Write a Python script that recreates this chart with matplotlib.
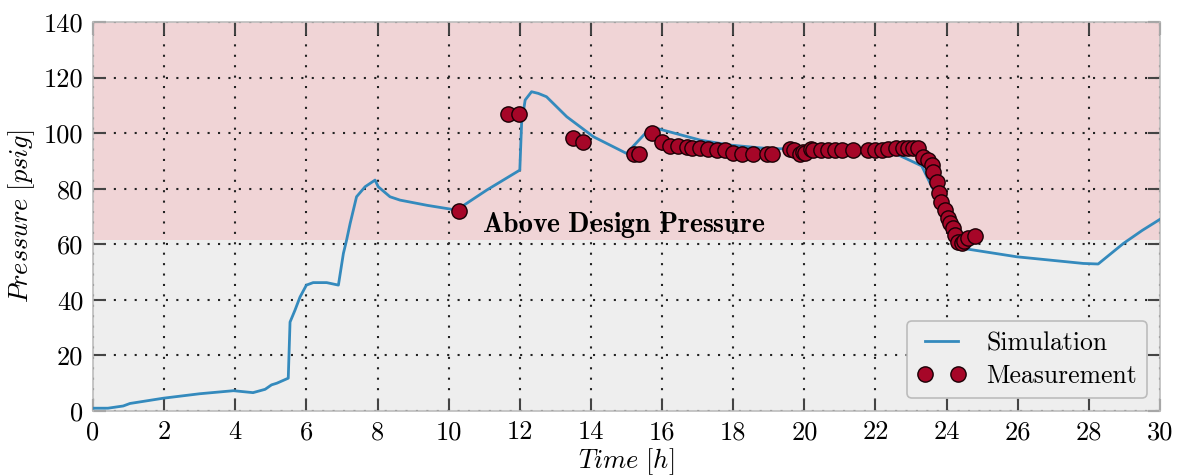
import matplotlib
matplotlib.use("Agg")
import matplotlib.pyplot as plt

# simulated pressure [psig] vs time [h]
sim_time = [0.0, 0.42, 0.85, 1.04, 1.98, 3.0, 3.95, 4.5, 4.84, 5.02, 5.17, 5.49,
            5.54, 5.68, 5.82, 6.0, 6.19, 6.57, 6.9, 7.04, 7.13, 7.23, 7.41, 7.65,
            7.93, 8.02, 8.35, 8.63, 9.4, 10.22, 11.07, 12.0, 12.05, 12.15, 12.33,
            12.52, 12.75, 13.32, 14.07, 15.0, 15.57, 15.85, 17.07, 17.91, 18.94,
            20.5, 22.0, 22.6, 23.3, 23.8, 24.28, 24.47, 25.97, 27.84, 28.26,
            28.97, 29.5, 30.0]
sim_pres = [1.0, 1.0, 1.8, 2.7, 4.6, 6.2, 7.3, 6.6, 7.8, 9.4, 10.0, 11.8,
            32.0, 36.3, 41.0, 45.3, 46.2, 46.2, 45.3, 56.7, 61.5, 67.5, 77.1, 80.7,
            83.1, 80.7, 77.1, 75.9, 74.0, 72.3, 79.5, 86.7, 103.5, 111.9, 114.9,
            114.3, 113.1, 105.9, 98.7, 92.7, 100.5, 101.7, 97.5, 95.7, 94.5,
            94.0, 93.8, 92.4, 88.2, 75.0, 59.1, 58.5, 55.5, 53.1, 52.9,
            60.3, 65.0, 69.0]

# measured pressure [psig] vs time [h]
meas_time = [10.29, 11.68, 11.98, 13.5, 13.79, 15.2, 15.35, 15.71, 15.99, 16.22,
             16.46, 16.69, 16.83, 17.06, 17.3, 17.54, 17.77, 18.0, 18.24, 18.57,
             18.94, 19.08, 19.6, 19.7, 19.88, 19.97, 20.02, 20.2, 20.25, 20.48,
             20.67, 20.86, 21.05, 21.37, 21.8, 21.99, 22.18, 22.36, 22.59, 22.78,
             22.92, 23.06, 23.2, 23.34, 23.48, 23.58, 23.62, 23.72, 23.79, 23.84,
             23.95, 24.03, 24.09, 24.17, 24.23, 24.33, 24.42, 24.5, 24.61, 24.8]
meas_pres = [72.0, 106.9, 106.8, 98.1, 96.7, 92.4, 92.4, 100.1, 96.9, 95.4,
             95.4, 95.0, 94.5, 94.5, 94.3, 93.9, 93.9, 92.7, 92.5, 92.5,
             92.5, 92.5, 94.2, 93.8, 92.4, 93.3, 92.8, 94.2, 93.9, 93.9,
             93.9, 93.9, 93.9, 93.9, 93.9, 93.9, 93.9, 94.3, 94.8, 94.8,
             94.8, 94.8, 94.5, 91.5, 90.3, 88.5, 86.1, 82.5, 78.3, 75.3,
             72.3, 69.3, 67.5, 65.7, 63.3, 60.9, 60.3, 61.0, 62.1, 63.0]

design_pressure = 61.5

plt.rcParams['font.family'] = 'serif'
plt.rcParams['font.serif'] = ['cmr10', 'DejaVu Serif']
plt.rcParams['mathtext.fontset'] = 'cm'
plt.rcParams['axes.unicode_minus'] = False
plt.rcParams['font.size'] = 18

fig = plt.figure(figsize=(11.77, 4.76), dpi=100)
ax = fig.add_axes([0.079, 0.1366, 0.9066, 0.8172])

ax.set_facecolor('#eeeeee')
ax.axhspan(design_pressure, 140, color='#f0d4d6', zorder=0, lw=0)

ax.plot(sim_time, sim_pres, color='#348ABD', lw=2.0, label='Simulation', zorder=3)
ax.plot(meas_time, meas_pres, ls='none', marker='o', ms=11, mfc='#A60628',
        mec='#1a0005', mew=1.0, label='Measurement', zorder=4)

ax.text(10.95, 67.0, r'$\mathbf{Above\ Design\ Pressure}$', fontsize=20,
        ha='left', va='center', zorder=5)

ax.set_xlim(0, 30)
ax.set_ylim(0, 140)
ax.set_xticks(range(0, 31, 2))
ax.set_yticks(range(0, 141, 20))
ax.grid(True, color='#222222', linestyle=(0, (1, 4)), lw=1.5)
ax.set_axisbelow(True)
ax.tick_params(direction='in', length=9, width=1.5, color='#444444',
               top=True, right=True, labelsize=19, pad=7)
for s in ax.spines.values():
    s.set_color('#bcbcbc')
    s.set_linewidth(1.2)

ax.set_xlabel(r'$\mathit{Time\ [h]}$', fontsize=19, labelpad=1)
ax.set_ylabel(r'$\mathit{Pressure\ [psig]}$', fontsize=19, labelpad=5)

leg = ax.legend(loc='lower right', numpoints=2, fontsize=18.5, frameon=True,
                fancybox=True, facecolor='#eeeeee', edgecolor='#bcbcbc',
                framealpha=1, borderaxespad=0.5, handlelength=1.9,
                borderpad=0.4, labelspacing=0.35)
leg.get_frame().set_linewidth(1.2)

fig.savefig('out.png', dpi=100)
